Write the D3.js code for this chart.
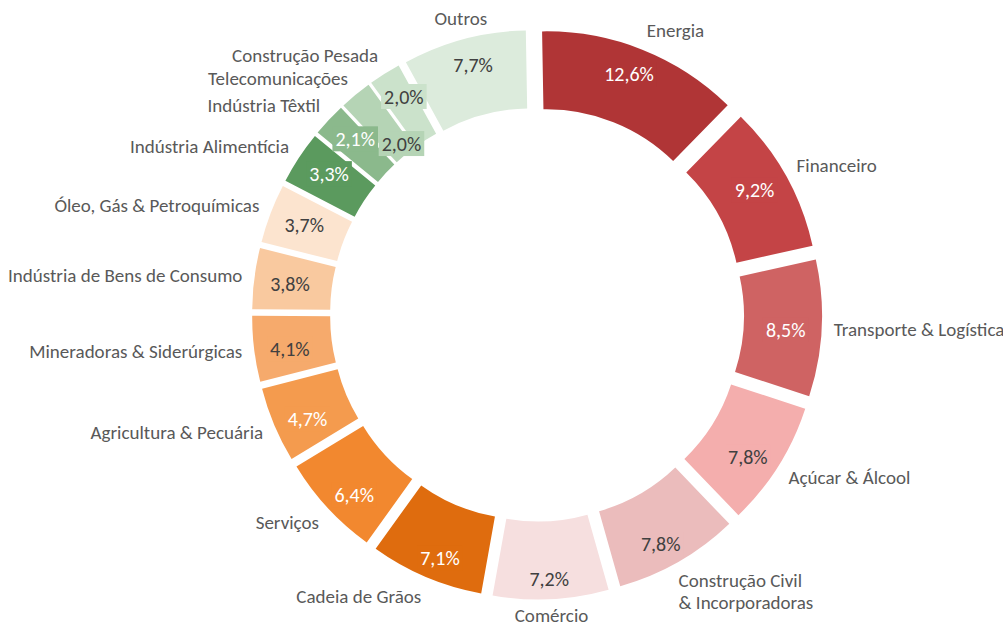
<!DOCTYPE html>
<html>
<head>
<meta charset="utf-8">
<script src="https://cdn.jsdelivr.net/npm/d3@7"></script>
<style>
  body { margin: 0; background: #fff; }
  svg { display: block; }
</style>
</head>
<body>
<div id="chart"></div>
<script>
const categories = [
  "Energia", "Financeiro", "Transporte & Logística", "Açúcar & Álcool",
  "Construção Civil\n& Incorporadoras", "Comércio", "Cadeia de Grãos", "Serviços",
  "Agricultura & Pecuária", "Mineradoras & Siderúrgicas", "Indústria de Bens de Consumo",
  "Óleo, Gás & Petroquímicas", "Indústria Alimentícia", "Indústria Têxtil",
  "Telecomunicações", "Construção Pesada", "Outros"
];
const shares = [12.6, 9.2, 8.5, 7.8, 7.8, 7.2, 7.1, 6.4, 4.7, 4.1, 3.8, 3.7, 3.3, 2.1, 2.0, 2.0, 7.7];
const palette = [
  "#b03536", "#c44446", "#cf6363", "#f4aead", "#ebbcbc", "#f6dfdf",
  "#df6c0e", "#f2882f", "#f49b4e", "#f6aa6c", "#f9c99f", "#fce4cf",
  "#5b9a5e", "#8bb98c", "#b5d4b5", "#cbe2cb", "#dcebdc"
];

const width = 1003, height = 625;
const cx = 537, cy = 314.5;
const outerR = 259, innerR = 181, explode = 26;
const firstAngle = -1 * Math.PI / 180;   // first slice starts at 359°
const pctRadius = 249, catRadius = 297;
const font = "Calibri, Carlito, Lato, sans-serif";

const color = d3.scaleOrdinal(categories, palette);
const fmt = v => d3.format(".1f")(v).replace(".", ",") + "%";

const svg = d3.select("#chart").append("svg")
  .attr("width", width)
  .attr("height", height);

const arcs = d3.pie().sort(null).value(d => d.value)
  .startAngle(firstAngle).endAngle(firstAngle + 2 * Math.PI)
  (categories.map((c, i) => ({ name: c, value: shares[i] })));

const mid = d => (d.startAngle + d.endAngle) / 2;
const arc = d3.arc().innerRadius(innerR).outerRadius(outerR);

// exploded slices
svg.append("g").selectAll("path")
  .data(arcs)
  .join("path")
  .attr("transform", d => `translate(${cx + explode * Math.sin(mid(d))},${cy - explode * Math.cos(mid(d))})`)
  .attr("d", arc)
  .attr("fill", d => color(d.data.name));

// category labels outside the ring
const cat = svg.append("g").selectAll("text")
  .data(arcs)
  .join("text")
  .attr("font-family", font)
  .attr("font-size", 19)
  .attr("fill", "#595959");

cat.each(function (d) {
  const t = d3.select(this);
  const lines = d.data.name.split("\n");
  lines.forEach((l, i) => t.append("tspan").attr("x", 0).attr("dy", i ? "1.15em" : 0).text(l));
  const box = this.getBBox();
  const a = mid(d);
  const s = Math.sin(a);
  const px = cx + catRadius * s;
  let py = cy - catRadius * Math.cos(a) - 9 * Math.cos(a);
  py = Math.min(py, height - 10);
  let left;
  if (lines.length > 1) left = px - 6;
  else if (s > 0.3) left = px;
  else if (s < -0.3) left = px - box.width;
  else left = px - box.width / 2;
  t.selectAll("tspan").attr("x", left);
  const lineH = box.height / lines.length;
  t.attr("transform", `translate(0,${py - box.y - lineH / 2})`);
});

// percentage labels, pushed inwards when they collide
const placed = [];
const overlaps = (a, b) => a.x0 < b.x1 && b.x0 < a.x1 && a.y0 < b.y1 && b.y0 < a.y1;

const pct = svg.append("g").selectAll("g")
  .data(arcs)
  .join("g");

pct.each(function (d) {
  const g = d3.select(this);
  const rect = g.append("rect").attr("fill", color(d.data.name));
  const txt = g.append("text")
    .attr("font-family", font)
    .attr("font-size", 20)
    .attr("text-anchor", "middle")
    .attr("dominant-baseline", "central")
    .attr("fill", d3.lab(color(d.data.name)).l < 74 ? "#ffffff" : "#404040")
    .text(fmt(d.data.value));
  const w = txt.node().getComputedTextLength() + 6;
  const h = 25;
  const a = mid(d);
  let rho = pctRadius, x, y, b;
  do {
    x = cx + rho * Math.sin(a);
    y = cy + 3 - (rho + h / 2) * Math.cos(a);
    b = { x0: x - w / 2, x1: x + w / 2, y0: y - h / 2, y1: y + h / 2 };
    rho -= 2;
  } while (placed.some(p => overlaps(p, b)) && rho > innerR);
  placed.push(b);
  txt.attr("x", x).attr("y", y);
  rect.attr("x", b.x0).attr("y", b.y0).attr("width", w).attr("height", h);
});
</script>
</body>
</html>
